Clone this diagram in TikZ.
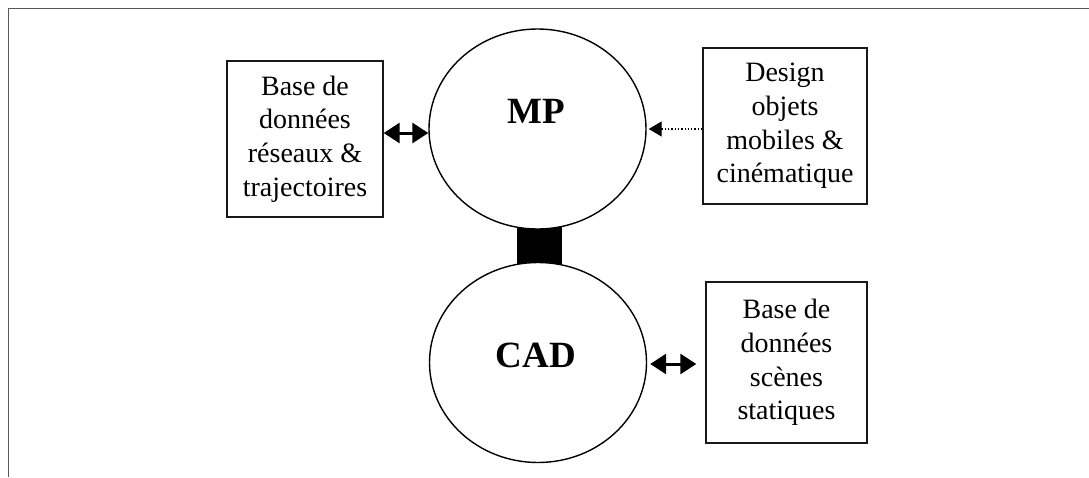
\documentclass[tikz,border=0pt]{standalone}
\usepackage{fontspec}
\setmainfont{Liberation Serif}
\usetikzlibrary{shapes.geometric,arrows.meta,backgrounds}
\tikzset{
  x=1pt,y=-1pt,
  boxnode/.style={draw=black!90,line width=1.4pt,inner sep=0pt,align=center,anchor=center,font=\fontsize{28}{33.7}\selectfont},
  round/.style={ellipse,draw=black,fill=white,line width=1.4pt,inner sep=0pt,minimum width=217pt,minimum height=200pt},
  bigtext/.style={font=\fontsize{37}{40}\selectfont\bfseries,anchor=base,inner sep=0pt},
  twoway/.style={line width=3pt,{Triangle[length=16pt,width=20pt]}-{Triangle[length=16pt,width=20pt]}},
  oneway/.style={line width=1.3pt,dotted,-{Triangle[length=13pt,width=15pt]}},
  framerule/.style={line width=1pt,draw=black!65},
}
\begin{document}
\begin{tikzpicture}
\useasboundingbox (0,0) rectangle (1089,477);
\coordinate (ftr) at (1089,8);
\coordinate (ftl) at (8,8);
\coordinate (fbl) at (8,477);
\draw[framerule] (ftr) -- (ftl) -- (fbl);
\node[round] (mp) at (537.5,129) {};
\node[round] (cad) at (538,362.5) {};
\begin{scope}[on background layer]
\draw[line width=45pt] ([xshift=2pt]mp.center) -- ([xshift=1.5pt]cad.center);
\end{scope}
\node[bigtext] (mpt) at (536,123) {MP};
\node[bigtext] (cadt) at (536,367) {CAD};
\node[boxnode,minimum width=156pt,minimum height=156pt] (lb) at (305,139) {Base de\\données\\réseaux \&\\trajectoires};
\node[boxnode,minimum width=164pt,minimum height=156pt] (db) at (785,126) {Design\\objets\\mobiles \&\\cinématique};
\node[boxnode,minimum width=161pt,minimum height=161pt] (bb) at (786.5,362.5) {Base de\\données\\scènes\\statiques};
\draw[twoway] ([yshift=6pt]lb.east) -- ([yshift=-4pt]mp.west);
\draw[twoway] ([xshift=3pt,yshift=-1.5pt]cad.east) -- ([xshift=-9pt,yshift=-1.5pt]bb.west);
\draw[oneway] ([yshift=-3pt]db.west) -- ([xshift=2pt]mp.east);
\end{tikzpicture}
\end{document}
